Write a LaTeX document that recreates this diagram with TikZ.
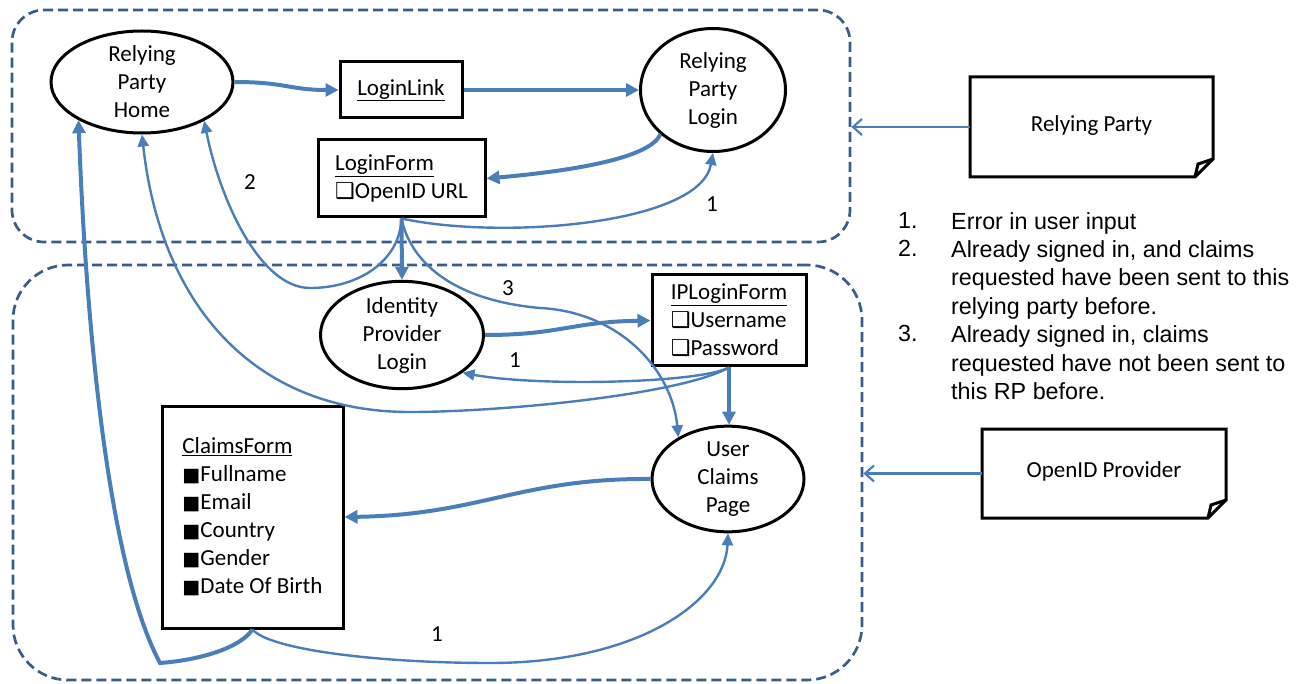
\documentclass[tikz,border=0pt]{standalone}
\usepackage{fontspec}
\setmainfont{Carlito}
\newfontfamily\legendfont{Liberation Sans}
\newfontfamily\symfont{DejaVu Sans}
\usetikzlibrary{shapes.geometric,arrows.meta}
\definecolor{linkblue}{RGB}{74,126,187}
\definecolor{areablue}{RGB}{56,93,138}
\newcommand{\chk}{{\symfont\fontsize{22}{22}\selectfont ❑}}
\newcommand{\blk}{{\symfont\fontsize{19}{19}\selectfont ■}}

\begin{document}
\begin{tikzpicture}[x=1pt,y=-1pt,
    every node/.style={font=\fontsize{23}{28}\selectfont, inner sep=0pt},
    area/.style={draw=areablue, line width=2.7pt, dash pattern=on 10pt off 5pt, rounded corners=#1},
    state/.style={ellipse, draw, line width=3pt, align=center},
    form/.style={rectangle, draw, line width=3pt, align=left},
    doc/.style={rectangle, outer sep=0pt},
    docline/.style={draw, line width=3pt, line join=miter},
    flow/.style={draw=linkblue, line width=4pt, -{Triangle[length=13pt,width=13pt]}},
    back/.style={draw=linkblue, line width=2.4pt, -{Triangle[length=12pt,width=11pt]}},
    owner/.style={draw=linkblue, line width=2.2pt, -{Straight Barb[length=9pt,width=16pt]}},
    legend/.style={font=\legendfont\fontsize{23.3}{28.4}\selectfont}]
  \useasboundingbox (0,0) rectangle (1306,684);

  \node[area=32pt, minimum width=838pt, minimum height=232pt] (rparea) at (431,126) {};
  \node[area=55pt, minimum width=849pt, minimum height=415pt] (oparea) at (437.5,472.5) {};

  \node[state, minimum width=182pt, minimum height=100pt] (rph) at (142,82) {Relying\\Party\\Home};
  \node[state, minimum width=145pt, minimum height=123pt] (rpl) at (713,90) {Relying\\Party\\Login};
  \node[state, minimum width=163pt, minimum height=101pt] (ipl) at (402,335) {Identity\\Provider\\Login};
  \node[state, minimum width=152pt, minimum height=100pt] (ucp) at (728,479) {User\\Claims\\Page};

  \node[form, minimum width=122pt, minimum height=56pt] (ll) at (401,90) {\underline{LoginLink}};
  \node[form, minimum width=167pt, minimum height=77pt] (lf) at (401.5,178.5) {\underline{LoginForm}\\\chk OpenID URL};
  \node[form, minimum width=154pt, minimum height=91pt] (ilf) at (729,320.5) {\underline{IPLoginForm}\\\chk Username\\\chk Password};
  \node[form, minimum width=181pt, minimum height=222pt] (cf) at (252.5,517) {\underline{ClaimsForm}\\\blk Fullname\\\blk Email\\\blk Country\\\blk Gender\\\blk Date Of Birth};

  \node[doc, minimum width=243pt, minimum height=100pt] (rpd) at (1091.5,127) {\raisebox{7pt}{Relying Party}};
  \node[doc, minimum width=244pt, minimum height=89pt] (opd) at (1104,473.5) {\raisebox{7pt}{OpenID Provider}};
  \draw[docline] (rpd.north west) -- (rpd.north east) -- ([yshift=18pt]rpd.south east) -- ([xshift=-18pt]rpd.south east) -- (rpd.south west) -- cycle;
  \draw[docline] ([xshift=-18pt]rpd.south east) -- ++(3,-13) -- ([yshift=18pt]rpd.south east);
  \draw[docline] (opd.north west) -- (opd.north east) -- ([yshift=18pt]opd.south east) -- ([xshift=-18pt]opd.south east) -- (opd.south west) -- cycle;
  \draw[docline] ([xshift=-18pt]opd.south east) -- ++(3,-13) -- ([yshift=18pt]opd.south east);
  \draw[owner] (rpd.west) -- (rpd.west -| rparea.east);
  \draw[owner] (opd.west) -- (opd.west -| oparea.east);

  \node (l2) at (250,182) {2};
  \node (l1a) at (712,204) {1};
  \node (l3) at (508,288) {3};
  \node (l1b) at (515,360) {1};
  \node (l1c) at (437,634) {1};

  \draw[flow] (rph.east) .. controls (285,82) and (290,90) .. (ll.west);
  \draw[flow] (ll.east) -- (rpl.west);
  \draw[flow] (rpl.220) .. controls (650,160) and (560,172) .. (lf.east);
  \draw[back] (lf.south) .. controls (500,240) and (700,225) .. (rpl.south);
  \draw[flow] (lf.south) -- (ipl.north);
  \draw[back] (lf.south) .. controls (400,260) and (360,288) .. (310,288) .. controls (260,288) and (220,200) .. (rph.-32);
  \draw[back] (lf.south) .. controls (410,260) and (450,300) .. (540,308) .. controls (620,312) and (672,370) .. (ucp.140);
  \draw[flow] (ipl.east) .. controls (560,335) and (570,322) .. (ilf.west);
  \draw[back] (ilf.south) .. controls (700,383) and (540,387) .. (ipl.-32);
  \draw[back] (ilf.south) .. controls (680,395) and (500,412) .. (410,412) .. controls (250,412) and (160,300) .. (rph.south);
  \draw[flow] (ilf.south) -- (ilf.south |- ucp.north);
  \draw[flow] (ucp.west) .. controls (520,478) and (480,515) .. (cf.east);
  \draw[back] (cf.south) .. controls (270,650) and (380,663) .. (490,663) .. controls (640,663) and (725,600) .. (ucp.south);
  \draw[flow] (cf.south) .. controls (240,648) and (200,660) .. (160,663) .. controls (105,560) and (85,300) .. (rph.-149);

  \node[legend, anchor=base west] (num1) at (898,229) {1.};
  \node[legend, anchor=base west] (num2) at (898,257) {2.};
  \node[legend, anchor=base west] (num3) at (898,342) {3.};
  \node[legend, anchor=north west, align=left] (notes) at (951,212) {Error in user input\\Already signed in, and claims\\requested have been sent to this\\relying party before.\\Already signed in, claims\\requested have not been sent to\\this RP before.};
\end{tikzpicture}
\end{document}
